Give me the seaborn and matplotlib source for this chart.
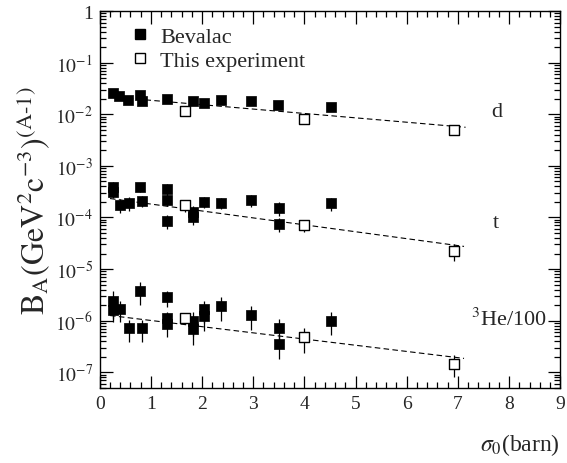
import numpy as np
import pandas as pd
import matplotlib
matplotlib.use("Agg")
import matplotlib.pyplot as plt
import matplotlib.ticker as mticker
from matplotlib.lines import Line2D
import seaborn as sns

# ---------------- data ----------------
d_bev_x = [0.25, 0.38, 0.56, 0.78, 0.82, 1.31, 1.83, 2.03, 2.37, 2.95, 3.48, 4.52]
d_bev_y = [0.026, 0.023, 0.0193, 0.024, 0.0178, 0.020, 0.0178, 0.0166, 0.0187, 0.0178, 0.0154, 0.0136]
d_bev_err = [0.1] * 12
d_exp_x = [1.67, 4.0, 6.93]
d_exp_y = [0.0114, 0.0081, 0.0050]
d_exp_err = [0.1, 0.12, 0.12]

t_bev_x = [0.25, 0.25, 0.39, 0.57, 0.78, 0.82, 1.31, 1.31, 1.31, 1.83, 1.83, 2.03, 2.37, 2.95, 3.5, 3.5, 4.52]
t_bev_y = [3.94e-4, 3.14e-4, 1.73e-4, 1.92e-4, 3.83e-4, 2.10e-4, 3.50e-4, 2.23e-4, 8.55e-5,
           1.28e-4, 1.02e-4, 2.0e-4, 1.95e-4, 2.16e-4, 1.56e-4, 7.6e-5, 1.87e-4]
t_bev_err = [0.25, 0.25, 0.3, 0.3, 0.2, 0.25, 0.25, 0.25, 0.3, 0.3, 0.3, 0.25, 0.25, 0.25, 0.3, 0.3, 0.3]
t_exp_x = [1.67, 4.0, 6.93]
t_exp_y = [1.73e-4, 7.05e-5, 2.22e-5]
t_exp_err = [0.25, 0.25, 0.35]

he_bev_x = [0.25, 0.25, 0.39, 0.57, 0.78, 0.82, 1.31, 1.31, 1.31, 1.83, 1.83, 2.03, 2.03, 2.37, 2.95, 3.5, 3.5, 4.52]
he_bev_y = [2.43e-6, 1.60e-6, 1.67e-6, 7.14e-7, 3.81e-6, 7.14e-7, 2.82e-6, 1.15e-6, 8.79e-7,
            9.9e-7, 6.82e-7, 1.67e-6, 1.24e-6, 1.95e-6, 1.30e-6, 7.14e-7, 3.58e-7, 9.9e-7]
he_bev_err = [0.55, 0.4, 0.43, 0.45, 0.47, 0.45, 0.35, 0.3, 0.45, 0.5, 0.5, 0.45, 0.5, 0.5, 0.5, 0.5, 0.5, 0.47]
he_exp_x = [1.67, 4.0, 6.93]
he_exp_y = [1.15e-6, 4.83e-7, 1.46e-7]
he_exp_err = [0.25, 0.5, 0.45]

# exponential fit lines (end points)
d_fit_x = [0.2, 7.15]
d_fit_y = [0.0218, 0.0056]
t_fit_x = [0.2, 7.12]
t_fit_y = [2.33e-4, 2.75e-5]
he_fit_x = [0.2, 7.12]
he_fit_y = [1.26e-6, 1.86e-7]

series_labels = ["d", "t", "$^{3}$He/100"]
legend_labels = ["Bevalac", "This experiment"]
x_ticks = list(range(0, 10))
y_ticks_exp = [0, -1, -2, -3, -4, -5, -6, -7]

# ---------------- build tables ----------------
rows = []
for name, bx, by, be, ex, ey, ee in [
    ("d", d_bev_x, d_bev_y, d_bev_err, d_exp_x, d_exp_y, d_exp_err),
    ("t", t_bev_x, t_bev_y, t_bev_err, t_exp_x, t_exp_y, t_exp_err),
    ("he", he_bev_x, he_bev_y, he_bev_err, he_exp_x, he_exp_y, he_exp_err),
]:
    for x, y, e in zip(bx, by, be):
        rows.append(dict(species=name, source="Bevalac", sigma=x, B=y, err=e))
    for x, y, e in zip(ex, ey, ee):
        rows.append(dict(species=name, source="This experiment", sigma=x, B=y, err=e))
df = pd.DataFrame(rows)

fit_rows = []
for name, fx, fy in [("d", d_fit_x, d_fit_y), ("t", t_fit_x, t_fit_y), ("he", he_fit_x, he_fit_y)]:
    for x, y in zip(fx, fy):
        fit_rows.append(dict(species=name, sigma=x, B=y))
fit_df = pd.DataFrame(fit_rows)

# ---------------- style ----------------
sns.set_theme(style="ticks")
plt.rcParams["font.family"] = ["Liberation Serif", "DejaVu Serif"]
plt.rcParams["mathtext.fontset"] = "stix"

fig = plt.figure(figsize=(5.67, 4.64), dpi=100)
ax = fig.add_axes([0.176, 0.162, 0.812, 0.812])
ax.set_yscale("log")

# fit lines
for name in ["d", "t", "he"]:
    sub = fit_df[fit_df.species == name]
    sns.lineplot(data=sub, x="sigma", y="B", ax=ax, color="black", lw=0.8,
                 linestyle=(0, (5, 3)), legend=False, estimator=None, sort=False)

# error bars
for _, r in df.iterrows():
    d = r.B * r.err
    ax.errorbar(r.sigma, r.B, yerr=[[d], [d]], fmt="none", ecolor="black",
                elinewidth=0.9, capsize=0, zorder=2)

# markers
bev = df[df.source == "Bevalac"]
exp = df[df.source == "This experiment"]
sns.scatterplot(data=bev, x="sigma", y="B", ax=ax, marker="s", s=62,
                color="black", edgecolor="black", linewidth=0.5, zorder=3, legend=False)
sns.scatterplot(data=exp, x="sigma", y="B", ax=ax, marker="s", s=52,
                facecolor="white", edgecolor="black", linewidth=1.0, zorder=3, legend=False)

ax.set_xlim(0, 9)
ax.set_ylim(5e-8, 1)

ax.xaxis.set_major_locator(mticker.FixedLocator(x_ticks))
ax.xaxis.set_minor_locator(mticker.MultipleLocator(0.2))
ax.yaxis.set_major_locator(mticker.FixedLocator([10.0 ** e for e in y_ticks_exp]))
ax.yaxis.set_minor_locator(mticker.LogLocator(base=10, subs=np.arange(2, 10), numticks=20))
ax.yaxis.set_minor_formatter(mticker.NullFormatter())


def yfmt(v, pos):
    e = int(round(np.log10(v)))
    if e == 0:
        return "1"
    return r"$\mathrm{10^{%d}}$" % e


ax.yaxis.set_major_formatter(mticker.FuncFormatter(yfmt))
ax.tick_params(which="both", direction="in", top=True, right=True, color="black", width=0.9)
ax.tick_params(which="major", length=9, labelsize=14, pad=5)
ax.tick_params(which="minor", length=4.5)
for sp in ax.spines.values():
    sp.set_color("black")
    sp.set_linewidth(1.0)

ax.set_xlabel(r"$\sigma_0$(barn)", fontsize=17, loc="right", labelpad=14)
ax.set_ylabel(r"$\mathrm{B_A(GeV^2c^{-3})^{(A\text{-}1)}}$", fontsize=23, labelpad=2)

# species labels
ax.text(7.75, 10 ** -1.95, series_labels[0], fontsize=16, ha="center", va="center")
ax.text(7.75, 10 ** -4.09, series_labels[1], fontsize=16, ha="center", va="center")
ax.text(7.25, 10 ** -5.96, series_labels[2], fontsize=16, ha="left", va="center")

handles = [
    Line2D([], [], marker="s", ls="none", color="black", markersize=7),
    Line2D([], [], marker="s", ls="none", markerfacecolor="white", markeredgecolor="black",
           markersize=7, markeredgewidth=1.0),
]
ax.legend(handles, legend_labels, loc="upper left", bbox_to_anchor=(0.035, 1.0),
          frameon=False, fontsize=16, handlelength=0.8, handletextpad=0.5,
          labelspacing=0.15, borderaxespad=0.3)

fig.savefig("out.png", dpi=100)
